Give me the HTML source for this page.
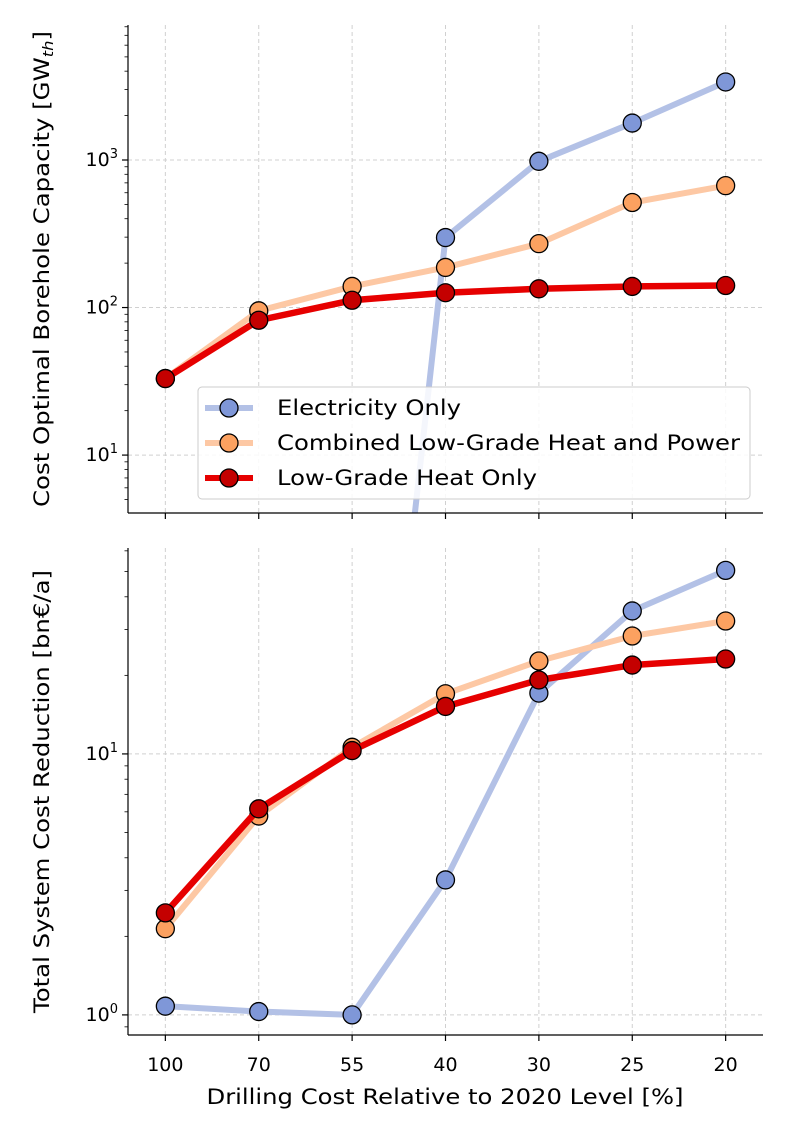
<!DOCTYPE html>
<html><head><meta charset="utf-8"><style>
body{margin:0;background:#fff;font-family:"Liberation Sans","DejaVu Sans",sans-serif}
svg text{font-family:"DejaVu Sans","Liberation Sans",sans-serif;fill:#000}
</style></head><body>
<svg id="chart" width="789" height="1139" xmlns="http://www.w3.org/2000/svg">
<defs>
<clipPath id="c1"><rect x="128" y="25" width="635" height="488"/></clipPath>
<clipPath id="c2"><rect x="128" y="548" width="635" height="487"/></clipPath>
</defs>
</svg>
<script>
const categories=["100","70","55","40","30","25","20"];
const capElec=[0.0006,0.0006,0.0006,298,980,1780,3380];
const capComb=[33,95,139,187,271,515,670];
const capHeat=[33,82,112,126,134,139,141];
const redElec=[1.08,1.03,1.0,3.29,17.1,35.3,50.5];
const redComb=[2.14,5.78,10.6,17.0,22.7,28.3,32.3];
const redHeat=[2.46,6.16,10.3,15.2,19.2,21.9,23.1];
const seriesNames=["Electricity Only","Combined Low-Grade Heat and Power","Low-Grade Heat Only"];
const NS="http://www.w3.org/2000/svg";
const svg=document.getElementById('chart');
function mk(t,a,p){const e=document.createElementNS(NS,t);for(const k in a)e.setAttribute(k,a[k]);(p||svg).appendChild(e);return e;}
const L=128,R=763;
const xs=i=>L+(i+0.4)*(R-L)/6.8;
const styles=[{line:"#b3c1e6",mk:"#7f97d8"},{line:"#fdc8a4",mk:"#fca160"},{line:"#e60000",mk:"#c40000"}];
function panel(top,bot,lmin,lmax,clip,data,title,tlen,minDec,maxDec){
  const ys=v=>bot-(Math.log10(v)-lmin)/(lmax-lmin)*(bot-top);
  const g=mk('g',{});
  
  
  categories.forEach((c,i)=>{mk('line',{x1:xs(i),x2:xs(i),y1:top,y2:bot,stroke:'#d0d0d0','stroke-dasharray':'4,3','stroke-width':1},g);});
  for(let d=minDec;d<=maxDec;d++){const y=ys(Math.pow(10,d));
    mk('line',{x1:L,x2:R,y1:y,y2:y,stroke:'#d0d0d0','stroke-dasharray':'4,3','stroke-width':1},g);
    mk('line',{x1:L-6,x2:L,y1:y,y2:y,stroke:'#000','stroke-width':1.2},g);
    const t=mk('text',{x:L-10,y:y+6,'text-anchor':'end','font-size':19},g);
    
    t.innerHTML='10<tspan dy="-8" font-size="13">'+d+'</tspan>';
  }
  for(let d=minDec-1;d<=maxDec;d++)for(let m=2;m<10;m++){const y=ys(m*Math.pow(10,d));if(y>top&&y<bot)mk('line',{x1:L-3.5,x2:L,y1:y,y2:y,stroke:'#000','stroke-width':0.8},g);}
  categories.forEach((c,i)=>{mk('line',{x1:xs(i),x2:xs(i),y1:bot,y2:bot+6,stroke:'#000','stroke-width':1.2},g);});
  data.forEach((arr,s)=>{
    const sg=mk('g',{'clip-path':'url(#'+clip+')'},g);
    
    mk('polyline',{points:arr.map((v,i)=>xs(i)+','+ys(v)).join(' '),fill:'none',stroke:styles[s].line,'stroke-width':s==2?6.5:6,'stroke-linejoin':'round'},sg);
    arr.forEach((v,i)=>{const p=mk('circle',{cx:xs(i),cy:ys(v),r:9,fill:styles[s].mk,stroke:'#000','stroke-width':1.3},sg);
      });
  });
  mk('line',{x1:L,x2:L,y1:top,y2:bot,stroke:'#000','stroke-width':1.2},g);
  mk('line',{x1:L,x2:R,y1:bot,y2:bot,stroke:'#000','stroke-width':1.2},g);
  const yt=mk('text',{x:0,y:0,'text-anchor':'middle','font-size':21,textLength:tlen,lengthAdjust:'spacingAndGlyphs',transform:'translate(49,'+((top+bot)/2)+') rotate(-90)'},g);
  
  yt.innerHTML=title;
  return ys;
}
panel(25,513,Math.log10(4.05),3.915,'c1',[capElec,capComb,capHeat],'Cost Optimal Borehole Capacity [GW<tspan font-style="italic" font-size="14" dy="4">th</tspan><tspan dy="-4">]</tspan>',476,1,3);
panel(548,1035,-0.077,1.789,'c2',[redElec,redComb,redHeat],'Total System Cost Reduction [bn€/a]',443,0,1);
categories.forEach((c,i)=>{const t=mk('text',{x:xs(i),y:1071,'text-anchor':'middle','font-size':19});
  t.textContent=c;});
const xt=mk('text',{x:445,y:1104,'text-anchor':'middle','font-size':21,textLength:477,lengthAdjust:'spacingAndGlyphs'});

xt.textContent='Drilling Cost Relative to 2020 Level [%]';
const lg=mk('g',{});

mk('rect',{x:198,y:387,width:552,height:112,rx:4,fill:'#fff','fill-opacity':0.85,stroke:'#ccc'},lg);
const lens=[184,463,260];
seriesNames.forEach((n,s)=>{const y=408+s*35;
  mk('line',{x1:205,x2:253,y1:y,y2:y,stroke:styles[s].line,'stroke-width':6},lg);
  mk('circle',{cx:229,cy:y,r:9,fill:styles[s].mk,stroke:'#000','stroke-width':1.3},lg);
  const t=mk('text',{x:277,y:y+7,'font-size':21,textLength:lens[s],lengthAdjust:'spacingAndGlyphs'},lg);
  t.textContent=n;});
</script>
</body></html>
